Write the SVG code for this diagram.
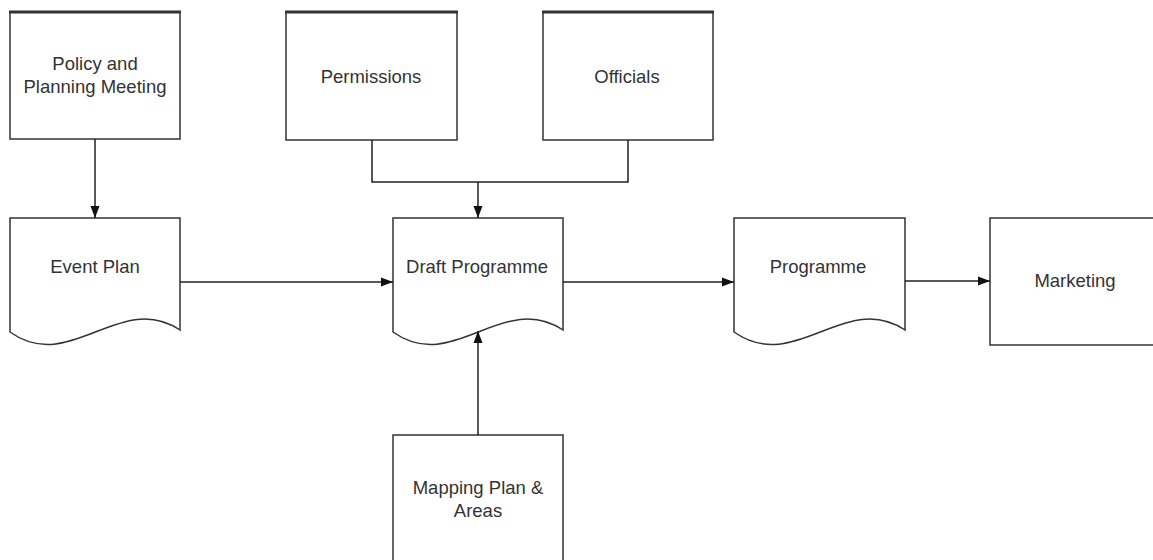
<svg xmlns="http://www.w3.org/2000/svg" width="1153" height="560" viewBox="0 0 1153 560">
<defs>
<style>
.box{fill:#fff;stroke:#333;stroke-width:1.5}
.top{stroke:#333;stroke-width:3}
.lbl{font-family:"Liberation Sans",Arial,sans-serif;font-size:18.5px;fill:#333;text-anchor:middle}
.con{fill:none;stroke:#222;stroke-width:1.5}
</style>
<marker id="arr" markerUnits="userSpaceOnUse" markerWidth="12" markerHeight="12" viewBox="0 0 12 12" refX="12" refY="6" orient="auto">
<path d="M0,1.5 L12,6 L0,10.5 Z" fill="#111"/>
</marker>
</defs>
<rect width="1153" height="560" fill="#fff"/>

<g id="policy">
<rect class="box" x="10" y="12" width="170" height="127"/>
<line class="top" x1="9" y1="12" x2="181" y2="12"/>
<text class="lbl" x="95" y="69.5">Policy and</text>
<text class="lbl" x="95" y="92.5">Planning Meeting</text>
</g>

<g id="permissions">
<rect class="box" x="286" y="12" width="171" height="128"/>
<line class="top" x1="285" y1="12" x2="458" y2="12"/>
<text class="lbl" x="371" y="82.5">Permissions</text>
</g>

<g id="officials">
<rect class="box" x="543" y="12" width="170" height="128"/>
<line class="top" x1="542" y1="12" x2="714" y2="12"/>
<text class="lbl" x="627" y="82.5">Officials</text>
</g>

<g id="event-plan">
<path class="box" d="M10,218 H180 V330 C120,290 70,375 10,332 Z"/>
<text class="lbl" x="95" y="273">Event Plan</text>
</g>

<g id="draft-programme">
<path class="box" d="M393,218 H563 V330 C503,290 453,375 393,332 Z"/>
<text class="lbl" x="477" y="273">Draft Programme</text>
</g>

<g id="programme">
<path class="box" d="M734,218 H905 V330 C845,290 795,375 734,332 Z"/>
<text class="lbl" x="818" y="273">Programme</text>
</g>

<g id="marketing">
<rect class="box" x="990" y="218" width="180" height="127"/>
<text class="lbl" x="1075" y="287">Marketing</text>
</g>

<g id="mapping">
<rect class="box" x="393" y="435" width="170" height="140"/>
<text class="lbl" x="478" y="493.5">Mapping Plan &amp;</text>
<text class="lbl" x="478" y="516.5">Areas</text>
</g>

<g id="connectors">
<path class="con" d="M95,139 V218" marker-end="url(#arr)"/>
<path class="con" d="M372,140 V182 H628 V140"/>
<path class="con" d="M478,182 V218" marker-end="url(#arr)"/>
<path class="con" d="M180,282 H393" marker-end="url(#arr)"/>
<path class="con" d="M563,282 H734" marker-end="url(#arr)"/>
<path class="con" d="M905,281 H990" marker-end="url(#arr)"/>
<path class="con" d="M478,435 V331" marker-end="url(#arr)"/>
</g>
</svg>
